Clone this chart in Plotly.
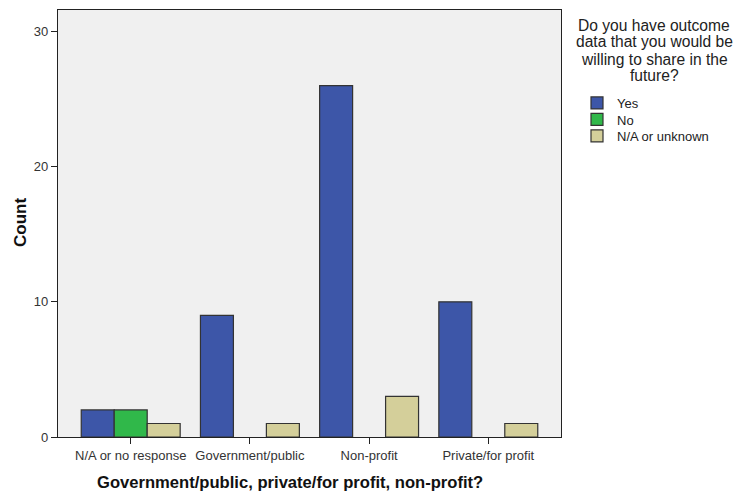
import plotly.graph_objects as go

categories = ["N/A or no response", "Government/public", "Non-profit", "Private/for profit"]
yes_vals = [2, 9, 26, 10]
no_vals = [2, None, None, None]
na_vals = [1, 1, 3, 1]
series_names = ["Yes", "No", "N/A or unknown"]
colors = ["#3d56a8", "#30b84a", "#d4cf9a"]
y_ticks = [0, 10, 20, 30]
legend_title_lines = ["Do you have outcome", "data that you would be", "willing to share in the", "future?"]
x_title = "Government/public, private/for profit, non-profit?"

W, H = 737, 496
L, T, R, B = 58, 10, 176, 59
PW, PH = W - L - R, H - T - B

def px_x(p):
    return (p - L) / PW

def px_y(p):
    return 1 - (p - T) / PH

legend_ids = ["legend", "legend2", "legend3"]
legend_py = [103, 119.5, 136]

fig = go.Figure()
for name, vals, col, lid in zip(series_names, [yes_vals, no_vals, na_vals], colors, legend_ids):
    fig.add_trace(go.Bar(
        x=categories, y=vals, name=name, legend=lid,
        marker=dict(color=col, line=dict(color="#333333", width=1.2)),
    ))

legend_layouts = {}
for lid, py in zip(legend_ids, legend_py):
    legend_layouts[lid] = dict(
        x=px_x(577), xanchor="left", y=px_y(py), yanchor="middle",
        font=dict(size=13, color="#222222"), itemwidth=30,
        bgcolor="rgba(0,0,0,0)", borderwidth=0,
    )

annotations = []
line_py = [25, 42, 59, 76]
for txt, py in zip(legend_title_lines, line_py):
    annotations.append(dict(
        text=txt, xref="paper", yref="paper", x=px_x(654), y=px_y(py),
        xanchor="center", yanchor="middle", showarrow=False,
        font=dict(size=15.6, color="#222222"),
    ))
annotations.append(dict(
    text="<b>" + x_title + "</b>", xref="paper", yref="paper",
    x=px_x(290), y=px_y(483), xanchor="center", yanchor="middle", showarrow=False,
    font=dict(size=16.6, color="#111111"),
))
annotations.append(dict(
    text="<b>Count</b>", xref="paper", yref="paper", textangle=-90,
    x=px_x(20), y=px_y(223), xanchor="center", yanchor="middle", showarrow=False,
    font=dict(size=17, color="#111111"),
))

fig.update_layout(
    width=W, height=H,
    margin=dict(l=L, r=R, t=T, b=B),
    paper_bgcolor="white", plot_bgcolor="#f0f0f0",
    barmode="group", bargap=0.17, bargroupgap=0,
    font=dict(family="Liberation Sans, Arial, sans-serif", color="#222222", size=13),
    showlegend=True,
    xaxis=dict(
        range=[-0.61, 3.61], showline=True, linecolor="#222222", linewidth=1.2,
        mirror=True, ticks="outside", ticklen=6, tickcolor="#222222",
        showgrid=False, tickfont=dict(size=13, color="#333333"),
    ),
    yaxis=dict(
        range=[0, 31.6], tickvals=y_ticks, showline=True, linecolor="#222222",
        linewidth=1.2, mirror=True, ticks="outside", ticklen=6, tickcolor="#222222",
        showgrid=False, zeroline=False, tickfont=dict(size=13, color="#333333"),
    ),
    annotations=annotations,
    **legend_layouts,
)

fig.write_html("out.html", config={"displayModeBar": False},
               post_script="document.body.style.margin='0';")
